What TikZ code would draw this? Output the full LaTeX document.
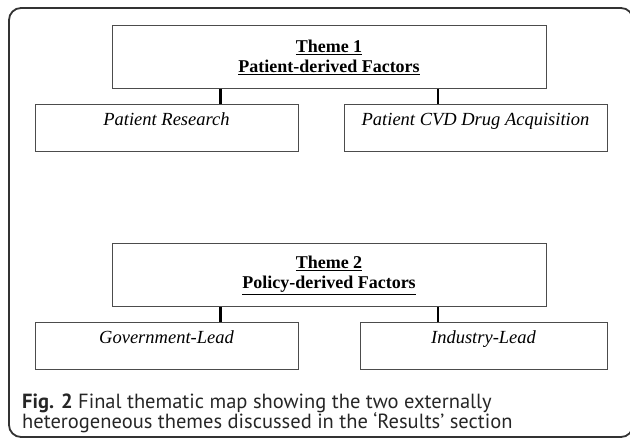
\documentclass[tikz,border=0pt]{standalone}
\usepackage{fontspec}
\setmainfont{Liberation Serif}
\newfontfamily\capfont{PT Sans}
\usetikzlibrary{positioning,calc}
\tikzset{
  theme/.style={
    rectangle, draw=black!70, line width=1pt,
    minimum width=434pt, minimum height=63pt,
    align=center, font=\fontsize{18}{20}\selectfont\bfseries,
  },
  factor/.style={
    rectangle, draw=black!70, line width=1pt, inner sep=0pt,
    minimum width=263pt, text height=21pt, text depth=26pt,
    font=\fontsize{18.5}{20}\selectfont\itshape,
  },
  link/.style={
    draw, line width=2.5pt,
  },
  caption/.style={
    anchor=base west, inner sep=0pt, text=black!85,
    font=\capfont\fontsize{20.5}{20}\selectfont,
  }
}

\begin{document}
\begin{tikzpicture}[x=1pt,y=-1pt]
\useasboundingbox (0,0) rectangle (630,438);
\draw [black!80, line width=1.8pt, rounded corners=12pt] (9,8) rectangle (633,437);
\node [theme] (th1) at (329,57) {\underline{Theme 1}\\\underline{Patient-derived Factors}};
\node [factor, below=15pt of th1.south west, anchor=north west, xshift=-77pt] (res) {Patient Research};
\node [factor, below=15pt of th1.south east, anchor=north east, xshift=61pt] (acq) {Patient CVD Drug Acquisition};
\node [theme] (th2) at (329,275.5) {\underline{Theme 2}\\\underline{Policy-derived Factors}};
\node [factor, below=15pt of th2.south west, anchor=north west, xshift=-77pt] (gov) {Government-Lead};
\node [factor, minimum width=247pt, below=15pt of th2.south east, anchor=north east, xshift=61pt] (ind) {Industry-Lead};
\coordinate (t1a) at ($(th1.south west)!.25!(th1.south east)$);
\coordinate (t1b) at ($(th1.south west)!.75!(th1.south east)$);
\coordinate (t2a) at ($(th2.south west)!.25!(th2.south east)$);
\coordinate (t2b) at ($(th2.south west)!.75!(th2.south east)$);
\path [link] (t1a) -- (t1a |- res.north);
\path [link] (t1b) -- (t1b |- acq.north);
\path [link] (t2a) -- (t2a |- gov.north);
\path [link] (t2b) -- (t2b |- ind.north);
\node [caption] (cap1) at (22,409) {\textbf{Fig. 2} Final thematic map showing the two externally};
\node [caption] (cap2) at (22,429) {heterogeneous themes discussed in the ‘Results’ section};
\end{tikzpicture}
\end{document}
